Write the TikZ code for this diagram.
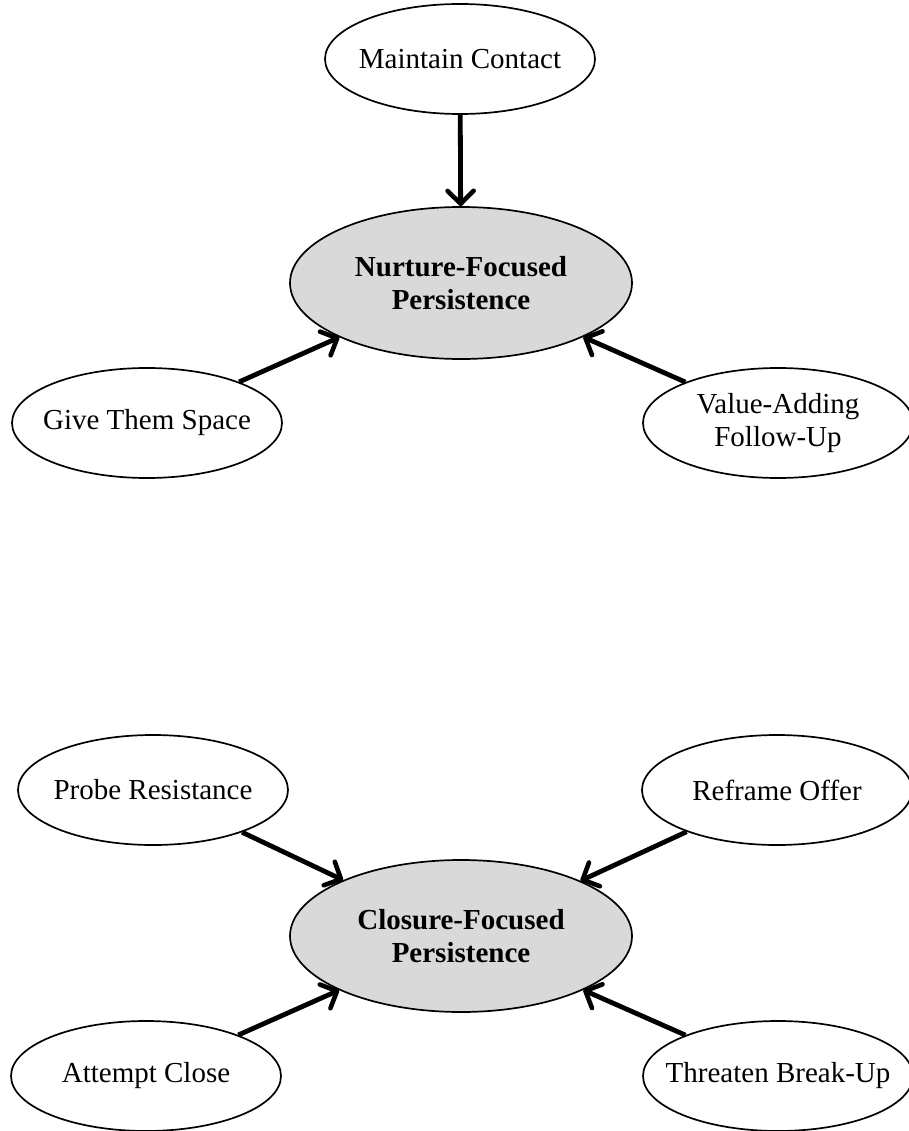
\documentclass[tikz,border=0pt]{standalone}
\usepackage{fontspec}
\setmainfont{Liberation Serif}
\usetikzlibrary{shapes.geometric,arrows.meta}
\definecolor{hubfill}{HTML}{D9D9D9}
\begin{document}
\begin{tikzpicture}[x=1pt,y=-1pt,
  leaf/.style={ellipse,draw,line width=1.7pt,fill=white,minimum width=270pt,minimum height=110pt,
    inner xsep=-30pt,inner ysep=0pt,align=center,font=\fontsize{29}{33}\selectfont},
  hub/.style={ellipse,draw,line width=1.7pt,fill=hubfill,minimum width=342pt,minimum height=152pt,
    inner xsep=-30pt,inner ysep=0pt,align=center,font=\fontsize{29}{33}\selectfont\bfseries},
  link/.style={line width=4.8pt,-{Straight Barb[length=13pt,width=26pt,line width=4.6pt,round]}}]
\useasboundingbox (0,0) rectangle (908,1131);
% upper cluster
\node[hub]  (nurture) at (461,283) {Nurture-Focused\\Persistence};
\node[leaf] (contact) at (460,59)  {Maintain Contact};
\node[leaf] (space)   at (147,423) {Give Them Space};
\node[leaf] (value)   at (778,423) {Value-Adding\\Follow-Up};
% lower cluster
\node[hub]  (closure) at (461,936) {Closure-Focused\\Persistence};
\node[leaf] (probe)   at (153,790)  {Probe Resistance};
\node[leaf] (reframe) at (777,790)  {Reframe Offer};
\node[leaf] (attempt) at (146,1076) {Attempt Close};
\node[leaf] (threat)  at (778,1076) {Threaten Break-Up};
% connectors
\draw[link] (contact) -- (nurture);
\draw[link] (space)   -- (nurture);
\draw[link] (value)   -- (nurture);
\draw[link] (probe)   -- (closure);
\draw[link] (reframe) -- (closure);
\draw[link] (attempt) -- (closure);
\draw[link] (threat)  -- (closure);
\end{tikzpicture}
\end{document}
